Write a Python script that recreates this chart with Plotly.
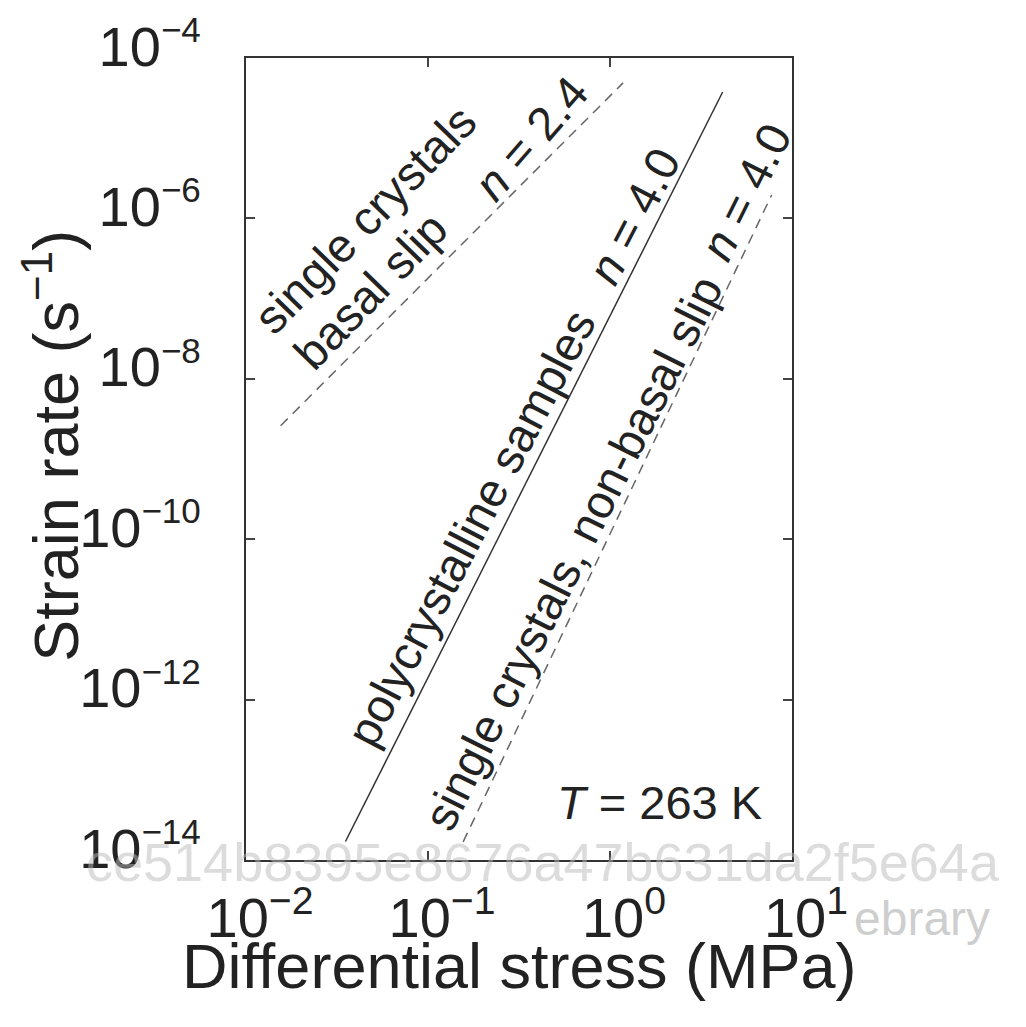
import plotly.graph_objects as go

# Data: log-log lines, stress in MPa, strain rate in 1/s
basal_stress = [0.0155, 1.18]
basal_rate = [2.6e-9, 4.9e-5]

poly_stress = [0.0352, 4.16]
poly_rate = [1.7e-14, 3.77e-5]

nonbasal_stress = [0.156, 7.73]
nonbasal_rate = [1.68e-14, 1.96e-6]

x_tickvals = [0.01, 0.1, 1, 10]
x_exponents = ["−2", "−1", "0", "1"]
y_tickvals = [1e-14, 1e-12, 1e-10, 1e-8, 1e-6, 1e-4]
y_exponents = ["−14", "−12", "−10", "−8", "−6", "−4"]

FONT = "Liberation Sans, Arial, sans-serif"
INK = "#222222"

x_ticktext = [f"10<sup>{e}</sup>" for e in x_exponents]
y_ticktext = [f"10<sup><span style='font-size:35px'>{e}</span></sup>" for e in y_exponents]

fig = go.Figure()
fig.add_trace(go.Scatter(x=basal_stress, y=basal_rate, mode="lines",
                         line=dict(color="#666666", width=1.5, dash="10px,7px"), showlegend=False))
fig.add_trace(go.Scatter(x=poly_stress, y=poly_rate, mode="lines",
                         line=dict(color="#333333", width=1.5), showlegend=False))
fig.add_trace(go.Scatter(x=nonbasal_stress, y=nonbasal_rate, mode="lines",
                         line=dict(color="#666666", width=1.5, dash="10px,7px"), showlegend=False))

# plot area in pixels
L, R, T, B = 245.5, 792.0, 58.0, 860.0
def px(xp, yp):
    return (xp - L) / (R - L), (B - yp) / (B - T)

def ann(text, xp, yp, angle, size=47, color=INK, family=FONT):
    xx, yy = px(xp, yp)
    fig.add_annotation(text=text, x=xx, y=yy, xref="paper", yref="paper",
                       textangle=angle, showarrow=False,
                       font=dict(family=family, size=size, color=color),
                       xanchor="center", yanchor="middle")

# watermark texts (drawn first, faint)
ann("ce514b8395e8676a47b631da2f5e64a", 543, 862, 0, size=54, color="rgba(185,185,185,0.5)")
ann("ebrary", 922, 918, 0, size=48, color="rgba(185,185,185,0.7)")

for text, (xp, yp), ang in [
    ("single crystals", (364, 219), -46),
    ("basal slip", (370, 290), -46),
    ("<i>n</i> = 2.4", (530, 138), -49),
    ("polycrystalline samples", (470, 528), -62.5),
    ("<i>n</i> = 4.0", (633, 216), -62.5),
    ("single crystals, non-basal slip", (572, 553), -63.5),
    ("<i>n</i> = 4.0", (745, 192), -63.5),
    ("<i>T</i> = 263 K", (659, 802), 0),
]:
    ann(text, xp, yp, ang)

# axis titles
ann("Strain rate (s<sup>−1</sup>)", 51, 446, -90, size=63)
ann("Differential stress (MPa)", 519, 966, 0, size=63)

axis_common = dict(type="log", showgrid=False, zeroline=False, showline=True,
                   linecolor="#333333", linewidth=2, mirror="ticks",
                   ticks="inside", ticklen=9, tickwidth=1.5, tickcolor="#444444",
                   tickfont=dict(family=FONT, size=56, color=INK))

fig.update_xaxes(**axis_common, range=[-2, 1], tickvals=x_tickvals, ticktext=x_ticktext,
                 ticklabelstandoff=8, ticklabelshift=14)
fig.update_yaxes(**axis_common, range=[-14, -4], tickvals=y_tickvals, ticktext=y_ticktext,
                 ticklabelstandoff=32, ticklabelshift=-12)

fig.update_layout(width=1026, height=1027, plot_bgcolor="white", paper_bgcolor="white",
                  margin=dict(l=245.5, r=234, t=58, b=167, autoexpand=False),
                  font=dict(family=FONT))

fig.write_html("out.html")
